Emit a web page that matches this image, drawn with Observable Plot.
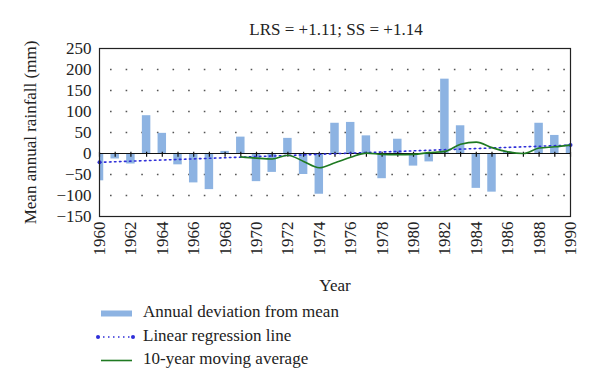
<!DOCTYPE html>
<html>
<head>
<meta charset="utf-8">
<script src="https://cdn.jsdelivr.net/npm/d3@7"></script>
<script src="https://cdn.jsdelivr.net/npm/@observablehq/plot@0.6"></script>
<style>
  html, body { margin: 0; padding: 0; background: #fff; }
  #wrap { position: relative; width: 600px; height: 392px; font-family: "Liberation Serif", "DejaVu Serif", serif; color: #222; }
  #title { position: absolute; left: 0; width: 672px; top: 19px; text-align: center; font-size: 17px; line-height: 22px; }
  #chart { position: absolute; left: 0; top: 0; }
  .leg { position: absolute; left: 143px; font-size: 17px; line-height: 20px; white-space: nowrap; }
  .sw { position: absolute; }
</style>
</head>
<body>
<div id="wrap">
  <div id="chart"></div>
  <div id="title">LRS = +1.11; SS = +1.14</div>
  <div id="legend"></div>
</div>
<script>
// ---- data ----
const years = d3.range(1960, 1991);
const deviations = [-65, -13, -25, 90, 48, -27, -70, -86, 5, 39,
                    -67, -45, 36, -50, -97, 72, 74, 42, -60, 34,
                    -30, -20, 177, 66, -83, -92, 4, -2, 72, 43, 21];
const maYears = d3.range(1969, 1991);
const movingAvg = [-8, -11, -13, -4, -19, -34, -22, -9, 1, -2, -3,
                   -2, 2, 5, 22, 27, 14, 4, 0, 13, 16, 20];
const regYears = [1960, 1990];
const regValues = [-21, 20];
const yTicks = [-150, -100, -50, 0, 50, 100, 150, 200, 250];
const gridValues = [-100, -50, 50, 100, 150, 200];
const xTickLabels = d3.range(1960, 1991, 2);
const legendLabels = ["Annual deviation from mean", "Linear regression line", "10-year moving average"];

const barColor = "#8db3e2";
const regColor = "#2f2fd8";
const maColor = "#1f7a22";

const bars = years.map((y, i) => ({year: y, value: deviations[i]}));
const ma = maYears.map((y, i) => ({year: y, value: movingAvg[i]}));
const reg = regYears.map((y, i) => ({year: y, value: regValues[i]}));

const chart = Plot.plot({
  width: 600,
  height: 300,
  marginTop: 48,
  marginBottom: 84,
  marginLeft: 99,
  marginRight: 30,
  style: {fontFamily: "'Liberation Serif', 'DejaVu Serif', serif", fontSize: "17px", color: "#222", background: "transparent"},
  x: {domain: [1960, 1990]},
  y: {domain: [-150, 250]},
  marks: [
    Plot.ruleY(gridValues, {stroke: "#555", strokeWidth: 1.6, strokeDasharray: "1.6,14.03", strokeDashoffset: -11}),
    Plot.rectY(bars, {x1: d => d.year - 0.27, x2: d => d.year + 0.27, y: "value", fill: barColor, clip: true}),
    Plot.ruleY([0], {stroke: "#111", strokeWidth: 1.2}),
    Plot.ruleX(years, {x: d => d, y1: -9, y2: 3, stroke: "#111", strokeWidth: 1.2}),
    Plot.line(reg, {x: "year", y: "value", stroke: regColor, strokeWidth: 1.6, strokeDasharray: "1.5,3.5"}),
    Plot.dot(reg, {x: "year", y: "value", fill: regColor, r: 2}),
    Plot.line(ma, {x: "year", y: "value", stroke: maColor, strokeWidth: 1.6, curve: "monotone-x"}),
    Plot.frame({stroke: "#222", strokeWidth: 1.2}),
    Plot.axisY({ticks: yTicks, tickSize: 0, tickPadding: 8, label: "Mean annual rainfall (mm)", labelAnchor: "center", labelOffset: 76, labelArrow: "none"}),
    Plot.axisX({ticks: xTickLabels, tickSize: 0, tickPadding: 5, tickRotate: -90, tickFormat: d => String(d), label: "Year", labelAnchor: "center", labelOffset: 74, labelArrow: "none"})
  ]
});
document.getElementById("chart").appendChild(chart);

// ---- legend ----
const leg = document.getElementById("legend");
const rowsY = [313, 337, 360];
legendLabels.forEach((t, i) => {
  const d = document.createElement("div");
  d.className = "leg";
  d.style.top = (rowsY[i] - 11) + "px";
  d.textContent = t;
  leg.appendChild(d);
});
const ns = "http://www.w3.org/2000/svg";
const sw = document.createElementNS(ns, "svg");
sw.setAttribute("width", 40); sw.setAttribute("height", 70);
sw.setAttribute("class", "sw");
sw.style.left = "96px"; sw.style.top = "300px";
sw.innerHTML = `
  <rect x="5" y="10.5" width="31" height="6" fill="${barColor}"></rect>
  <line x1="2" x2="37" y1="37" y2="37" stroke="${regColor}" stroke-width="1.6" stroke-dasharray="1.5,3.5"></line>
  <circle cx="2" cy="37" r="2" fill="${regColor}"></circle>
  <circle cx="37" cy="37" r="2" fill="${regColor}"></circle>
  <line x1="5" x2="36" y1="60.5" y2="60.5" stroke="${maColor}" stroke-width="1.6"></line>`;
leg.appendChild(sw);
</script>
</body>
</html>
